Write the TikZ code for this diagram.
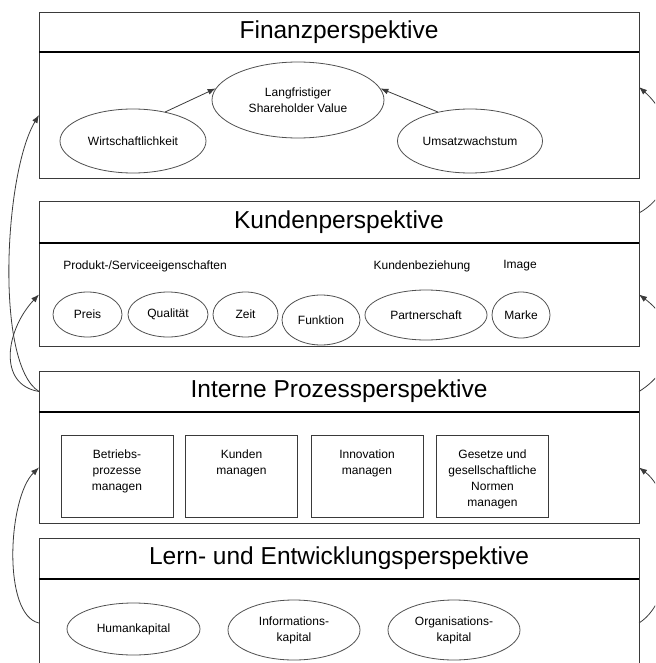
\documentclass[tikz,border=0pt]{standalone}
\usepackage{fontspec}
\setmainfont{Liberation Sans}
\usepackage{xcolor}
\usepackage{tikz}
\usetikzlibrary{positioning,shapes.geometric,arrows.meta}
\definecolor{rahmen}{HTML}{3A3A3A}
\definecolor{ovalgrau}{HTML}{505050}
\newcommand{\titelfont}{\fontsize{24.5}{29}\selectfont}
\newcommand{\kleinfont}{\fontsize{12}{16}\selectfont}
\newcommand{\kastentext}[1]{\parbox[c][82pt][t]{112pt}{\centering\rule{0pt}{23pt}#1}}

\tikzset{
  titelbox/.style={draw=rahmen, line width=0.9pt, minimum width=600pt, inner sep=0pt, outer sep=0pt, font=\titelfont},
  inhaltbox/.style={draw=rahmen, line width=0.9pt, minimum width=600pt, inner sep=0pt, outer sep=0pt},
  trenner/.style={line width=1.6pt, black},
  oval/.style={ellipse, draw=ovalgrau, line width=0.8pt, inner sep=0pt, align=center, font=\kleinfont},
  kasten/.style={rectangle, draw=rahmen, line width=0.8pt, inner sep=0pt, font=\kleinfont},
  pfeil/.style={->, line width=0.8pt, draw=rahmen},
  >={Latex[length=8pt,width=6pt]}
}

\begin{document}
\begin{tikzpicture}[x=1pt, y=-1pt]
\useasboundingbox (0,0) rectangle (655,663);
\clip (0,0) rectangle (655,663);

% Finanzperspektive
\node [inhaltbox, minimum height=126pt] (fincont) at (339,115) {};
\node [titelbox, minimum height=40pt] (fintitle) at (339,32) {Finanzperspektive};
\draw [trenner] (fintitle.south west) -- (fintitle.south east);

\node [oval, minimum width=172pt, minimum height=76pt] (shv) at (298,100) {Langfristiger\\ Shareholder Value};
\node [oval, minimum width=146pt, minimum height=64pt] (wirt) at (133,141) {Wirtschaftlichkeit};
\node [oval, minimum width=145pt, minimum height=64pt] (umsatz) at (470,141) {Umsatzwachstum};
\draw [pfeil] (wirt.42) -- (shv.172);
\draw [pfeil] (umsatz.138) -- (shv.8);

% Kundenperspektive
\node [inhaltbox, minimum height=103pt] (kuncont) at (339,294.5) {};
\node [titelbox, minimum height=42pt] (kuntitle) at (339,222) {Kundenperspektive};
\draw [trenner, line width=1.1pt] (kuntitle.south west) -- (kuntitle.south east);

\node [font=\kleinfont] (produkt) at (145,266) {Produkt-/Serviceeigenschaften};
\node [font=\kleinfont] (beziehung) at (422,266) {Kundenbeziehung};
\node [font=\kleinfont] (image) at (520,266) {Image};

\node [oval, minimum width=69pt, minimum height=45pt] (preis) at (87.5,314.5) {Preis};
\node [oval, minimum width=80pt, minimum height=45pt] (qualitaet) at (168,314.5) {Qualität};
\node [oval, minimum width=65pt, minimum height=45pt] (zeit) at (245.5,314.5) {Zeit};
\node [oval, minimum width=78pt, minimum height=50pt] (funktion) at (321,320) {Funktion};
\node [oval, minimum width=122pt, minimum height=50pt] (partner) at (426,315) {Partnerschaft};
\node [oval, minimum width=58pt, minimum height=46pt] (marke) at (521,315) {Marke};

% Interne Prozessperspektive
\node [inhaltbox, minimum height=111pt] (intcont) at (339,467.5) {};
\node [titelbox, minimum height=41pt] (inttitle) at (339,391.5) {Interne Prozessperspektive};
\draw [trenner] (inttitle.south west) -- (inttitle.south east);

\node [kasten] (betrieb) at (117,476) {\kastentext{Betriebs-\\prozesse\\managen}};
\node [kasten] (kunden) at (241.5,476) {\kastentext{Kunden\\managen}};
\node [kasten] (innovation) at (367,476) {\kastentext{Innovation\\managen}};
\node [kasten] (gesetze) at (492.5,476) {\kastentext{Gesetze und\\gesellschaftliche\\Normen\\managen}};

% Lern- und Entwicklungsperspektive
\node [inhaltbox, minimum height=88pt] (lerncont) at (339,623) {};
\node [titelbox, minimum height=41pt] (lerntitle) at (339,558.5) {Lern- und Entwicklungsperspektive};
\draw [trenner] (lerntitle.south west) -- (lerntitle.south east);

\node [oval, minimum width=133pt, minimum height=52pt] (human) at (133.5,629) {Humankapital};
\node [oval, minimum width=132pt, minimum height=60pt] (info) at (294,630) {Informations-\\kapital};
\node [oval, minimum width=132pt, minimum height=60pt] (orga) at (454,630) {Organisations-\\kapital};

% Wirkungsketten links
\draw [pfeil] (inttitle.west) .. controls +(-44,-27) and +(-35,58) .. (fincont.west);
\draw [pfeil] (inttitle.west) .. controls +(-42,-7) and +(-33,35) .. (kuncont.west);
\draw [pfeil] (lerncont.west) .. controls +(-37,-8) and +(-31,30) .. (intcont.west);

% Wirkungsketten rechts
\draw [pfeil] ([yshift=9pt]kuntitle.east) .. controls +(45,-25) and +(40,35) .. ([yshift=28pt]fincont.east);
\draw [pfeil] (inttitle.east) .. controls +(40,-25) and +(40,30) .. (kuncont.east);
\draw [pfeil] (lerncont.east) .. controls +(40,-25) and +(40,30) .. (intcont.east);
\end{tikzpicture}
\end{document}
